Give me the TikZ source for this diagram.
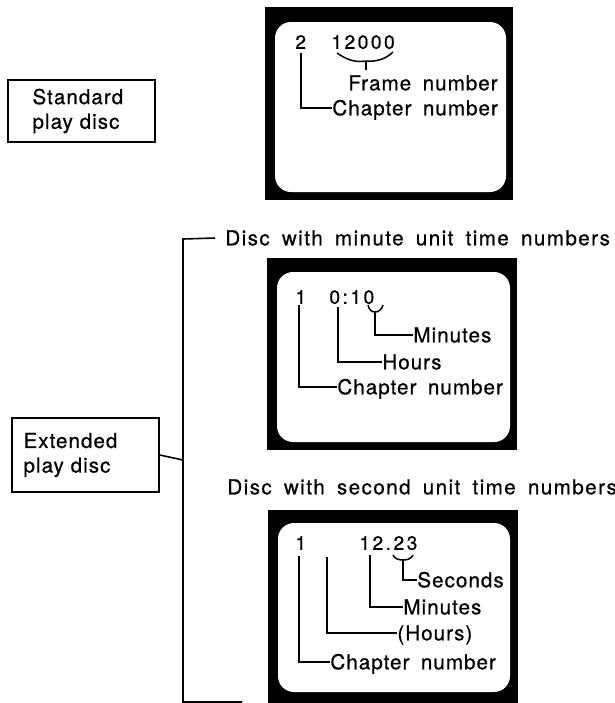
\documentclass[tikz,border=0pt]{standalone}
\usepackage{fontspec}
\setmainfont{TeX Gyre Heros}[LetterSpace=5,WordSpace=1.7,FakeBold=0.6]
\newfontfamily\digfont{TeX Gyre Heros}[LetterSpace=13,FakeBold=0.6]
\newfontfamily\headfont{TeX Gyre Heros}[LetterSpace=7,WordSpace=1.7,FakeBold=0.6]
\begin{document}
\begin{tikzpicture}[x=0.5pt,y=-0.5pt,
  lbl/.style={font=\fontsize{10.3pt}{12pt}\selectfont, inner sep=0pt, anchor=west, text height=7.3pt, text depth=0pt},
  head/.style={lbl, font=\headfont\fontsize{10.3pt}{12pt}\selectfont},
  dig/.style={font=\digfont\fontsize{9.6pt}{10pt}\selectfont, inner sep=0pt, anchor=west, text height=6.8pt, text depth=0pt},
  boxtext/.style={draw, line width=0.8pt, inner sep=0pt, font=\fontsize{10.3pt}{12.3pt}\selectfont, align=left},
  lead/.style={line width=0.75pt},
  brk/.style={line width=0.8pt}]
\useasboundingbox (0,0) rectangle (615,703);
\fill[white] (0,0) rectangle (615,703);

% ---- left boxes
\node[boxtext, minimum width=73.5pt, minimum height=31pt, text width=49pt] (std) at (81.5,111) {Standard\\ play disc};
\node[boxtext, minimum width=73.5pt, minimum height=37pt, text width=62pt] (ext) at (85.5,455) {Extended\\ play disc};

% ---- screens
\fill[black] (265,7) rectangle (513,200);
\fill[white, rounded corners=8pt] (275,22) rectangle (506,192);
\fill[black] (267,258) rectangle (517,450);
\fill[white, rounded corners=8pt] (277,272) rectangle (510,442);
\fill[black] (268,510) rectangle (518,712);
\fill[white, rounded corners=8pt] (278,523) rectangle (510,692);

% ---- headers and bracket
\node[head] (h1) at (225,238) {Disc with minute unit time numbers};
\node[head] (h2) at (227,487) {Disc with second unit time numbers};
\coordinate (bt) at (183,239);
\coordinate (bb) at (183,702);
\coordinate (be) at (242,702);
\coordinate (bj) at (183,460);
\draw[brk] ([xshift=-5pt]h1.west) -- (bt) -- (bb) -- (be);
\draw[brk] (ext.east) -- (bj);

% ---- screen 1
\node[dig] (s1a) at (295,42) {2};
\node[dig] (s1b) at (331,42) {12000};
\node[lbl] (s1f) at (348,83) {Frame number};
\node[lbl] (s1c) at (332,108) {Chapter number};
\coordinate (s1p) at (301,53);
\coordinate (s1bl) at (337,53);
\coordinate (s1bm) at (366,61);
\coordinate (s1br) at (393,52);
\draw[lead] (s1p) |- (s1c.west);
\draw[lead] (s1bl) .. controls (350,62) and (358,62) .. (s1bm) .. controls (376,62) and (386,59) .. (s1br);
\draw[lead] (s1bm) -- ++(0,9);

% ---- screen 2
\node[dig] (s2a) at (295,297) {1};
\node[dig] (s2b) at (329,297) {0:10};
\node[lbl] (s2m) at (413,335) {Minutes};
\node[lbl] (s2h) at (382,362) {Hours};
\node[lbl] (s2c) at (337,387) {Chapter number};
\coordinate (s2p1) at (299,305);
\coordinate (s2p2) at (338,307);
\coordinate (s2ul) at (368,305);
\coordinate (s2um) at (375,312);
\coordinate (s2ur) at (383,305);
\draw[lead] (s2p1) |- (s2c.west);
\draw[lead] (s2p2) |- (s2h.west);
\draw[lead] (s2ul) .. controls (369,310) and (372,312) .. (s2um) .. controls (378,312) and (382,310) .. (s2ur);
\draw[lead] (s2um) |- (s2m.west);

% ---- screen 3
\node[dig] (s3a) at (295,543) {1};
\node[dig] (s3b) at (359,543) {12.23};
\node[lbl] (s3s) at (417,580) {Seconds};
\node[lbl] (s3m) at (403,607) {Minutes};
\node[lbl] (s3h) at (397,633) {(Hours)};
\node[lbl] (s3c) at (330,662) {Chapter number};
\coordinate (s3p1) at (299,556);
\coordinate (s3p2) at (327,557);
\coordinate (s3p3) at (370,555);
\coordinate (s3ul) at (393,555);
\coordinate (s3um) at (403,560);
\coordinate (s3ur) at (413,555);
\draw[lead] (s3p1) |- (s3c.west);
\draw[lead] (s3p2) |- (s3h.west);
\draw[lead] (s3p3) |- (s3m.west);
\draw[lead] (s3ul) .. controls (395,559) and (399,560) .. (s3um) .. controls (407,560) and (411,559) .. (s3ur);
\draw[lead] (s3um) |- (s3s.west);
\end{tikzpicture}
\end{document}
